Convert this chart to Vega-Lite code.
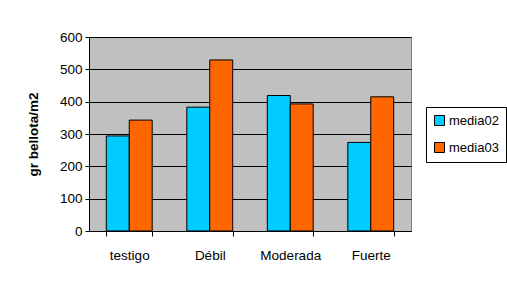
{
  "$schema": "https://vega.github.io/schema/vega-lite/v6.json",
  "width": 322,
  "height": 194,
  "autosize": "none",
  "padding": {"left": 89, "top": 37, "right": 96, "bottom": 53},
  "background": "white",
  "data": {
    "values": [
      {"cat": "testigo", "serie": "media02", "valor": 294},
      {"cat": "testigo", "serie": "media03", "valor": 343},
      {"cat": "Débil", "serie": "media02", "valor": 383},
      {"cat": "Débil", "serie": "media03", "valor": 529},
      {"cat": "Moderada", "serie": "media02", "valor": 419},
      {"cat": "Moderada", "serie": "media03", "valor": 393},
      {"cat": "Fuerte", "serie": "media02", "valor": 274},
      {"cat": "Fuerte", "serie": "media03", "valor": 415}
    ]
  },
  "mark": {"type": "bar", "stroke": "black", "strokeWidth": 1},
  "encoding": {
    "x": {
      "field": "cat",
      "type": "nominal",
      "sort": ["testigo", "Débil", "Moderada", "Fuerte"],
      "scale": {"paddingInner": 0.43, "paddingOuter": 0.215},
      "axis": {
        "title": null,
        "labelAngle": 0,
        "labelFont": "Liberation Sans",
        "labelFontSize": 13.5,
        "labelColor": "black",
        "labelPadding": 12,
        "domainColor": "black",
        "tickColor": "black",
        "tickSize": 5,
        "tickBand": "extent",
        "grid": false
      }
    },
    "xOffset": {"field": "serie", "type": "nominal"},
    "y": {
      "field": "valor",
      "type": "quantitative",
      "scale": {"domain": [0, 600], "nice": false},
      "axis": {
        "title": "gr bellota/m2",
        "titleFont": "Liberation Sans",
        "titleFontSize": 13.5,
        "titleFontWeight": "bold",
        "titleColor": "black",
        "titlePadding": 19,
        "values": [0, 100, 200, 300, 400, 500, 600],
        "labelFont": "Liberation Sans",
        "labelFontSize": 13.5,
        "labelColor": "black",
        "labelPadding": 3,
        "domainColor": "black",
        "tickColor": "black",
        "tickSize": 4,
        "grid": true,
        "gridColor": "black",
        "gridOpacity": 1,
        "gridWidth": 1
      }
    },
    "color": {
      "field": "serie",
      "type": "nominal",
      "scale": {"domain": ["media02", "media03"], "range": ["#00CCFF", "#FF6600"]},
      "legend": {
        "title": null,
        "orient": "none",
        "legendX": 337,
        "legendY": 70,
        "symbolType": "square",
        "symbolSize": 100,
        "symbolStrokeColor": "black",
        "symbolStrokeWidth": 1,
        "labelFont": "Liberation Sans",
        "labelFontSize": 13,
        "labelColor": "black",
        "labelOffset": 3,
        "rowPadding": 12,
        "strokeColor": "black",
        "padding": 7,
        "fillColor": "white"
      }
    }
  },
  "config": {
    "view": {"fill": "#C0C0C0", "stroke": "#808080", "strokeWidth": 1}
  }
}
